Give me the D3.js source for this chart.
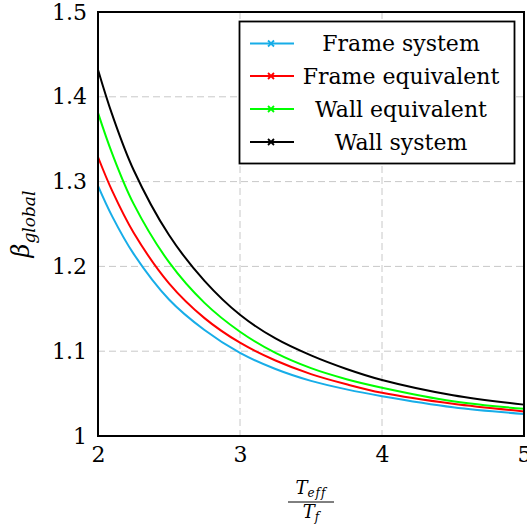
<!DOCTYPE html>
<html>
<head>
<meta charset="utf-8">
<script src="https://cdn.jsdelivr.net/npm/d3@7"></script>
<style>
  body { margin: 0; background: #fff; }
  svg text { font-family: "DejaVu Serif", serif; }
</style>
</head>
<body>
<div id="chart"></div>
<script>
// values
var ratios = [2, 2.1, 2.25, 2.5, 2.75, 3, 3.25, 3.5, 3.75, 4, 4.5, 5];
var frameSystem     = [1.295, 1.259, 1.215, 1.161, 1.125, 1.098, 1.079, 1.065, 1.055, 1.047, 1.034, 1.026];
var frameEquivalent = [1.329, 1.289, 1.240, 1.180, 1.139, 1.110, 1.089, 1.073, 1.061, 1.051, 1.038, 1.029];
var wallEquivalent  = [1.381, 1.333, 1.274, 1.205, 1.157, 1.123, 1.098, 1.080, 1.067, 1.057, 1.041, 1.032];
var wallSystem      = [1.432, 1.379, 1.314, 1.237, 1.183, 1.143, 1.115, 1.095, 1.079, 1.066, 1.048, 1.037];
var seriesNames = ["Frame system", "Frame equivalent", "Wall equivalent", "Wall system"];
var seriesColors = ["#17ade8", "#ff0000", "#00ff00", "#000000"];
var xTicks = [2, 3, 4, 5];
var yTicks = [1, 1.1, 1.2, 1.3, 1.4, 1.5];
var yTickLabels = ["1", "1.1", "1.2", "1.3", "1.4", "1.5"];

var W = 527, H = 525;
var margin = {top: 12, right: 3, bottom: 89, left: 98},
    width = W - margin.left - margin.right,
    height = H - margin.top - margin.bottom;

var svg = d3.select("#chart")
    .append("svg")
    .attr("width", W)
    .attr("height", H);

var x = d3.scaleLinear().domain([2, 5]).range([margin.left, margin.left + width]);
var y = d3.scaleLinear().domain([1, 1.5]).range([margin.top + height, margin.top]);

// grid
var grid = svg.append("g")
    .attr("stroke", "#c8c8c8")
    .attr("stroke-width", 1)
    .attr("stroke-dasharray", "7,4");
grid.selectAll("line.gx")
    .data(xTicks.slice(1, -1))
    .enter().append("line")
    .attr("x1", d => x(d)).attr("x2", d => x(d))
    .attr("y1", margin.top).attr("y2", margin.top + height);
grid.selectAll("line.gy")
    .data(yTicks.slice(1, -1))
    .enter().append("line")
    .attr("x1", margin.left).attr("x2", margin.left + width)
    .attr("y1", d => y(d)).attr("y2", d => y(d));

// axes (labels only)
svg.append("g")
    .attr("transform", "translate(0," + (margin.top + height) + ")")
    .call(d3.axisBottom(x).tickValues(xTicks).tickSize(0).tickPadding(10).tickFormat(d3.format("d")));
svg.append("g")
    .attr("transform", "translate(" + margin.left + ",0)")
    .call(d3.axisLeft(y).tickValues(yTicks).tickSize(0).tickPadding(11)
        .tickFormat((d, i) => yTickLabels[i]));
svg.selectAll(".domain").remove();
svg.selectAll(".tick text")
    .attr("font-size", 22)
    .attr("fill", "#000");

// curves
var allSeries = [frameSystem, frameEquivalent, wallEquivalent, wallSystem];
var line = d3.line()
    .x((d, i) => x(ratios[i]))
    .y(d => y(d))
    .curve(d3.curveCatmullRom.alpha(0.5));

svg.append("g").selectAll("path")
    .data(allSeries)
    .enter().append("path")
    .attr("fill", "none")
    .attr("stroke", (d, i) => seriesColors[i])
    .attr("stroke-width", 2)
    .attr("d", line);

// frame
svg.append("rect")
    .attr("x", margin.left).attr("y", margin.top)
    .attr("width", width).attr("height", height)
    .attr("fill", "none")
    .attr("stroke", "#000")
    .attr("stroke-width", 2);

// legend
var lg = svg.append("g");
lg.append("rect")
    .attr("x", 239.5).attr("y", 21.5)
    .attr("width", 275).attr("height", 142)
    .attr("fill", "#fff")
    .attr("stroke", "#000")
    .attr("stroke-width", 1.8);
var rowY = [43.5, 76, 109, 142];
var entries = lg.selectAll("g.entry")
    .data(seriesNames)
    .enter().append("g")
    .attr("transform", (d, i) => "translate(0," + rowY[i] + ")");
entries.append("line")
    .attr("x1", 250).attr("x2", 294)
    .attr("y1", 0).attr("y2", 0)
    .attr("stroke", (d, i) => seriesColors[i])
    .attr("stroke-width", 2);
entries.append("path")
    .attr("d", "M268,-3L274,3M268,3L274,-3")
    .attr("stroke", (d, i) => seriesColors[i])
    .attr("stroke-width", 1.8);
entries.append("text")
    .attr("x", 401).attr("y", 0)
    .attr("dy", "0.36em")
    .attr("text-anchor", "middle")
    .attr("font-size", 22)
    .text(d => d);

// y title: beta_global
var yt = svg.append("text")
    .attr("transform", "translate(29," + (margin.top + height / 2) + ") rotate(-90)")
    .attr("text-anchor", "middle")
    .attr("font-size", 24)
    .attr("font-style", "italic");
yt.append("tspan").text("β");
yt.append("tspan").attr("font-size", 17).attr("dy", 6).text("global");

// x title: T_eff / T_f
var cx = margin.left + width / 2;
var num = svg.append("text")
    .attr("x", cx).attr("y", 494)
    .attr("text-anchor", "middle")
    .attr("font-size", 18)
    .attr("font-style", "italic");
num.append("tspan").text("T");
num.append("tspan").attr("font-size", 12).attr("dy", 3).attr("letter-spacing", 1).text("eff");
svg.append("line")
    .attr("x1", cx - 23).attr("x2", cx + 23)
    .attr("y1", 502).attr("y2", 502)
    .attr("stroke", "#000").attr("stroke-width", 1);
var den = svg.append("text")
    .attr("x", cx).attr("y", 518)
    .attr("text-anchor", "middle")
    .attr("font-size", 18)
    .attr("font-style", "italic");
den.append("tspan").text("T");
den.append("tspan").attr("font-size", 12).attr("dy", 3).text("f");
</script>
</body>
</html>
